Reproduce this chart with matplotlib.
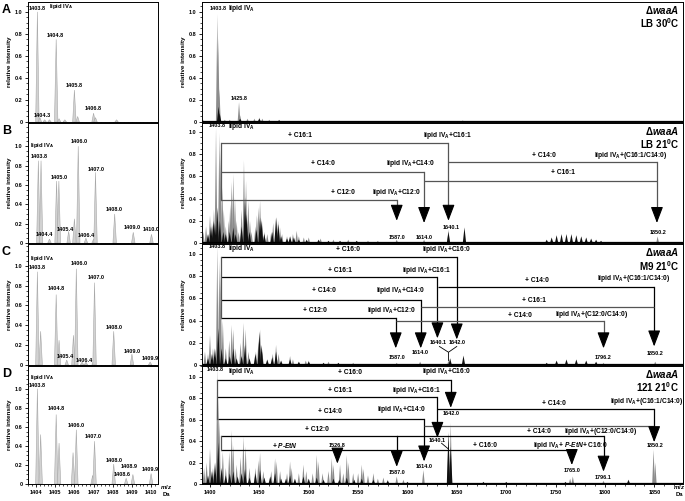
import matplotlib
matplotlib.use('Agg')
import matplotlib.pyplot as plt
from matplotlib.ticker import MultipleLocator

plt.rcParams['font.family'] = ['Liberation Sans', 'DejaVu Sans']
plt.rcParams['font.weight'] = 'bold'
plt.rcParams['mathtext.fontset'] = 'custom'
plt.rcParams['mathtext.rm'] = 'Liberation Sans:bold'
plt.rcParams['mathtext.bf'] = 'Liberation Sans:bold'
plt.rcParams['mathtext.it'] = 'Liberation Sans:bold:italic'

LIPID = r'lipid IV$_\mathbf{A}$'

# ---- left (zoomed isotope) spectra ----
A_iso_mz = [1404.07, 1404.2, 1404.45, 1404.7, 1405.05, 1405.2, 1405.5, 1406.0, 1406.17, 1407.0, 1407.1, 1408.2]
A_iso_int = [1.0, 0.04, 0.02, 0.02, 0.75, 0.03, 0.02, 0.29, 0.05, 0.08, 0.04, 0.02]
B_iso_mz = [1404.12, 1404.26, 1404.7, 1405.07, 1405.19, 1405.7, 1406.0, 1406.2, 1406.6, 1407.0, 1407.1, 1408.1, 1409.07, 1410.02]
B_iso_int = [0.85, 0.85, 0.04, 0.64, 0.64, 0.12, 0.25, 1.0, 0.05, 0.04, 0.73, 0.3, 0.11, 0.09]
C_iso_mz = [1404.07, 1404.24, 1405.05, 1405.2, 1405.6, 1405.95, 1406.1, 1406.4, 1406.6, 1407.0, 1407.05, 1408.05, 1409.0, 1409.95]
C_iso_int = [0.94, 0.34, 0.71, 0.25, 0.05, 0.3, 0.97, 0.03, 0.03, 0.04, 0.83, 0.34, 0.11, 0.03]
D_iso_mz = [1404.07, 1404.24, 1405.05, 1405.2, 1405.93, 1406.1, 1406.95, 1407.05, 1408.05, 1408.7, 1409.05, 1410.0]
D_iso_int = [1.0, 0.52, 0.73, 0.43, 0.33, 0.57, 0.09, 0.45, 0.21, 0.06, 0.1, 0.11]

A_iso_labels = [('1403.8', 1404.07, 1.03), ('1404.8', 1405.0, 0.79), ('1405.8', 1406.0, 0.33),
                ('1406.8', 1407.0, 0.12), ('1404.3', 1404.35, 0.06), (LIPID, 1405.3, 1.05)]
B_iso_labels = [(LIPID, 1404.3, 1.01), ('1403.8', 1404.15, 0.89), ('1405.0', 1405.2, 0.68),
                ('1406.0', 1406.23, 1.05), ('1407.0', 1407.13, 0.76), ('1408.0', 1408.1, 0.35),
                ('1409.0', 1409.02, 0.16), ('1410.0', 1409.98, 0.14), ('1404.4', 1404.45, 0.09),
                ('1405.4', 1405.5, 0.14), ('1406.4', 1406.6, 0.08)]
C_iso_labels = [(LIPID, 1404.3, 1.07), ('1403.8', 1404.07, 0.98), ('1404.8', 1405.05, 0.77),
                ('1406.0', 1406.23, 1.02), ('1407.0', 1407.13, 0.88), ('1408.0', 1408.1, 0.38),
                ('1409.0', 1409.02, 0.14), ('1409.9', 1409.98, 0.07), ('1405.4', 1405.55, 0.09),
                ('1406.4', 1406.5, 0.05)]
D_iso_labels = [(LIPID, 1404.3, 1.12), ('1403.8', 1404.07, 1.04), ('1404.8', 1405.05, 0.79),
                ('1406.0', 1406.1, 0.61), ('1407.0', 1407.0, 0.5), ('1408.0', 1408.1, 0.25),
                ('1408.9', 1408.85, 0.18), ('1408.6', 1408.5, 0.1), ('1409.9', 1409.98, 0.15)]

# ---- right (full range) spectra ----
A_gray_mz = [1392.5, 1407.4, 1408.4, 1409.5, 1415, 1420, 1429.4, 1430.5, 1438, 1445, 1450, 1453, 1460, 1470, 1490, 1616, 1656]
A_gray_int = [0.03, 0.98, 0.76, 0.3, 0.02, 0.02, 0.18, 0.06, 0.03, 0.03, 0.04, 0.03, 0.02, 0.02, 0.01, 0.01, 0.015]
A_black_mz = [1408.7, 1409.8, 1430.5, 1450, 1470]
A_black_int = [0.14, 0.08, 0.03, 0.03, 0.015]

B_gray_mz = [1393.2, 1396.0, 1398.0, 1400.0, 1402.0, 1404.0, 1406.1, 1409.5, 1410.8, 1412.5, 1414.0, 1416.0,
             1419.0, 1420.5, 1422.0, 1423.6, 1425.3, 1427.0, 1429.0, 1432.0, 1434.4, 1436.5, 1438.8, 1440.5,
             1442.0, 1446.0, 1447.5, 1449.0, 1450.7, 1452.5, 1455.0, 1458.0, 1462.0, 1464.0, 1467.5, 1469.0,
             1470.9, 1473.0, 1478.0, 1484.0, 1487.8, 1490.0, 1495.0, 1500, 1512, 1525, 1540, 1560, 1589.1,
             1616.8, 1641.5, 1853.3]
B_gray_int = [0.1, 0.15, 0.08, 0.25, 0.18, 0.3, 1.04, 0.99, 0.84, 0.5, 0.3, 0.15,
              0.2, 0.35, 0.55, 0.62, 0.41, 0.2, 0.1, 0.3, 0.745, 0.56, 0.38, 0.2,
              0.1, 0.15, 0.25, 0.32, 0.38, 0.22, 0.1, 0.08, 0.1, 0.18, 0.23, 0.2,
              0.14, 0.08, 0.06, 0.08, 0.11, 0.06, 0.05, 0.05, 0.04, 0.03, 0.03, 0.02, 0.03,
              0.03, 0.12, 0.06]
B_black_mz = [1398.0, 1401.0, 1403.4, 1405.0, 1407.4, 1410.0, 1413.5, 1416.0, 1420.0, 1423.6, 1426.0,
              1432.0, 1435.5, 1437.1, 1440.0, 1447.0, 1450.7, 1452.3, 1455.0, 1463.0, 1466.9, 1469.2,
              1472.0, 1478.0, 1481.1, 1485.0, 1490.0, 1497.9, 1510, 1520, 1531.7, 1548.6, 1570,
              1641.5, 1657.7, 1741, 1746, 1751, 1756, 1761, 1766, 1771, 1776, 1781, 1786, 1791, 1796]
B_black_int = [0.08, 0.15, 0.2, 0.18, 0.32, 0.2, 0.1, 0.08, 0.1, 0.14, 0.08,
               0.15, 0.41, 0.26, 0.1, 0.12, 0.23, 0.2, 0.08, 0.1, 0.23, 0.17,
               0.06, 0.04, 0.06, 0.05, 0.03, 0.03, 0.03, 0.02, 0.02, 0.02, 0.015,
               0.1, 0.14, 0.03, 0.05, 0.07, 0.08, 0.08, 0.08, 0.07, 0.06, 0.05, 0.04, 0.03, 0.02]

C_gray_mz = [1394.9, 1398.0, 1400.0, 1403.0, 1407.4, 1409.5, 1410.8, 1413.0, 1416.0, 1419.5, 1422.0, 1423.6,
             1426.0, 1431.0, 1433.8, 1436.1, 1439.0, 1446.5, 1449.0, 1450.7, 1453.0, 1463.5, 1466.9, 1469.5,
             1481.1, 1484.0, 1497.0, 1500, 1520, 1545, 1589.1, 1612.8, 1641.5, 1798.5, 1850.9]
C_gray_int = [0.12, 0.1, 0.27, 0.15, 1.07, 0.94, 0.85, 0.4, 0.15, 0.22, 0.36, 0.32,
              0.15, 0.2, 0.38, 0.32, 0.12, 0.12, 0.21, 0.32, 0.12, 0.1, 0.18, 0.1,
              0.08, 0.05, 0.04, 0.04, 0.03, 0.02, 0.02, 0.03, 0.04, 0.02, 0.03]
C_black_mz = [1398.0, 1402.0, 1405.0, 1408.4, 1411.8, 1416.0, 1420.0, 1423.6, 1427.0, 1432.0, 1435.5,
              1440.0, 1446.0, 1450.0, 1452.3, 1458.0, 1463.0, 1466.9, 1472.0, 1481.1, 1490.0, 1500.0,
              1515.0, 1530.0, 1643.2, 1656.7, 1741, 1751, 1761, 1771, 1781, 1791]
C_black_int = [0.06, 0.1, 0.15, 0.33, 0.15, 0.06, 0.08, 0.15, 0.06, 0.08, 0.18,
               0.06, 0.1, 0.3, 0.18, 0.05, 0.07, 0.12, 0.04, 0.05, 0.03, 0.03,
               0.02, 0.02, 0.06, 0.085, 0.02, 0.04, 0.05, 0.05, 0.04, 0.03]

D_gray_mz = [1391.6, 1394.0, 1396.6, 1400.0, 1403.0, 1407.4, 1408.4, 1409.5, 1413.0, 1416.0, 1419.5, 1422.0,
             1423.6, 1427.0, 1431.0, 1433.8, 1436.1, 1440.0, 1446.0, 1449.0, 1450.7, 1454.0, 1462.0, 1465.9,
             1467.5, 1471.0, 1478.0, 1481.1, 1482.7, 1490.0, 1494.6, 1497.5, 1504.0, 1508.1, 1509.8, 1514.0,
             1520.0, 1523.3, 1525.0, 1531.7, 1535.0, 1538.5, 1540.2, 1545.0, 1550.0, 1553.7, 1555.4, 1560.0,
             1565.5, 1570.0, 1575.6, 1580.0, 1589.1, 1595.9, 1616.1, 1641.5, 1643.8, 1764.7, 1767.4,
             1798.5, 1849.2, 1850.9]
D_gray_int = [0.12, 0.15, 0.2, 0.33, 0.15, 1.09, 0.8, 0.6, 0.3, 0.15, 0.3, 0.5,
              0.36, 0.18, 0.25, 0.44, 0.35, 0.15, 0.15, 0.22, 0.29, 0.12, 0.12, 0.24,
              0.21, 0.12, 0.1, 0.21, 0.15, 0.1, 0.18, 0.12, 0.1, 0.27, 0.21, 0.1,
              0.12, 0.24, 0.18, 0.18, 0.1, 0.27, 0.2, 0.1, 0.1, 0.18, 0.14, 0.08,
              0.1, 0.05, 0.06, 0.04, 0.07, 0.04, 0.13, 0.49, 0.57, 0.05, 0.07,
              0.03, 0.32, 0.2]
D_black_mz = [1398.0, 1402.0, 1405.1, 1408.4, 1411.8, 1416.0, 1420.0, 1423.6, 1428.0, 1432.0, 1435.5,
              1440.0, 1446.0, 1450.7, 1455.0, 1461.0, 1465.9, 1472.0, 1477.0, 1481.1, 1486.0, 1494.6,
              1500.0, 1508.1, 1515.0, 1525.0, 1531.0, 1538.5, 1546.0, 1553.7, 1565.5, 1580.0, 1600.0,
              1641.5, 1643.8, 1676.9, 1700.0, 1760.0, 1823.8]
D_black_int = [0.08, 0.12, 0.2, 0.39, 0.15, 0.08, 0.1, 0.12, 0.07, 0.1, 0.14,
               0.06, 0.1, 0.13, 0.06, 0.07, 0.1, 0.05, 0.05, 0.08, 0.05, 0.07,
               0.05, 0.06, 0.04, 0.05, 0.04, 0.06, 0.04, 0.05, 0.04, 0.03, 0.02,
               0.47, 0.35, 0.02, 0.02, 0.02, 0.04]

# links: (x start, x end, y of bar, arrow tip y or None, colour)
B_links = [(1410.8, 1641.5, 0.90, 0.20, '#555555'), (1410.8, 1616.8, 0.64, 0.18, '#555555'),
           (1410.8, 1589.1, 0.385, 0.20, '#555555'), (1641.5, 1852.6, 0.727, 0.18, '#555555'),
           (1616.8, 1852.6, 0.56, None, '#555555')]
C_links = [(1410.8, 1649.9, 0.976, 0.23, 'black'), (1410.8, 1630.3, 0.79, 0.24, 'black'),
           (1410.8, 1613.4, 0.59, 0.15, 'black'), (1410.8, 1588.1, 0.424, 0.15, 'black'),
           (1631.0, 1849.8, 0.706, 0.167, 'black'), (1614.1, 1849.8, 0.524, None, '#555555'),
           (1588.8, 1798.5, 0.40, 0.15, '#555555')]
D_links = [(1407.4, 1643.8, 0.97, 0.71, 'black'), (1407.4, 1630.3, 0.81, 0.43, 'black'),
           (1408.4, 1616.8, 0.61, 0.21, 'black'), (1410.8, 1589.1, 0.45, 0.16, 'black'),
           (1410.8, 1766.4, 0.317, 0.177, 'black'), (1529.0, 1529.0, 0.317, 0.19, 'black'),
           (1630.3, 1849.8, 0.70, 0.39, 'black'), (1616.8, 1849.8, 0.54, None, '#555555'),
           (1589.1, 1798.5, 0.45, 0.115, 'black')]
# trunks: (x, y low, y high)
B_trunks = [(1410.8, 0.385, 0.90)]
C_trunks = [(1410.8, 0.424, 0.976)]
D_trunks = [(1407.4, 0.61, 0.97), (1410.8, 0.317, 0.45)]

# text: (text, x, y, size)
A_texts = [('1403.8', 1408.0, 1.03, 4), (LIPID, 1432.1, 1.03, 4.8), ('1425.8', 1429.4, 0.21, 4)]
B_texts = [('1403.8', 1407.4, 1.06, 4), (LIPID, 1432.1, 1.05, 4.8),
           ('+ C16:1', 1491.2, 0.97, 4.8), (LIPID + '+C16:1', 1641.0, 0.97, 4.8),
           ('+ C14:0', 1514.8, 0.715, 4.8), (LIPID + '+C14:0', 1603.0, 0.715, 4.8),
           ('+ C12:0', 1535.1, 0.455, 4.8), (LIPID + '+C12:0', 1589.1, 0.455, 4.8),
           ('+ C14:0', 1737.7, 0.79, 4.8), (LIPID + '+(C16:1/C14:0)', 1825.5, 0.79, 4.8),
           ('+ C16:1', 1757.6, 0.636, 4.8),
           ('1587.0', 1589.1, 0.05, 4), ('1614.0', 1616.8, 0.05, 4), ('1640.1', 1643.8, 0.14, 4),
           ('1850.2', 1854.2, 0.09, 4)]
C_texts = [('1403.8', 1407.4, 1.07, 4), (LIPID, 1432.1, 1.045, 4.8),
           ('+ C16:0', 1540.2, 1.04, 4.8), (LIPID + '+C16:0', 1639.8, 1.04, 4.8),
           ('+ C16:1', 1531.7, 0.855, 4.8), (LIPID + '+C16:1', 1619.5, 0.855, 4.8),
           ('+ C14:0', 1515.5, 0.667, 4.8), (LIPID + '+C14:0', 1592.5, 0.667, 4.8),
           ('+ C12:0', 1506.4, 0.49, 4.8), (LIPID + '+C12:0', 1584.1, 0.49, 4.8),
           ('+ C14:0', 1731.0, 0.758, 4.8), (LIPID + '+(C16:1/C14:0)', 1828.9, 0.78, 4.8),
           ('+ C16:1', 1727.6, 0.585, 4.8), ('+ C14:0', 1714.1, 0.445, 4.8),
           (LIPID + '+(C12:0/C14:0)', 1786.7, 0.455, 4.8),
           ('1587.0', 1589.1, 0.07, 4), ('1614.0', 1612.8, 0.115, 4), ('1640.1', 1631.3, 0.2, 4),
           ('1642.0', 1649.9, 0.2, 4), ('1796.2', 1798.5, 0.07, 4), ('1850.2', 1850.9, 0.1, 4)]
D_texts = [('1403.8', 1405.1, 1.07, 4), (LIPID, 1432.1, 1.05, 4.8),
           ('+ C16:0', 1541.8, 1.04, 4.8), (LIPID + '+C16:0', 1639.8, 1.05, 4.8),
           ('+ C16:1', 1531.7, 0.876, 4.8), (LIPID + '+C16:1', 1609.4, 0.876, 4.8),
           ('+ C14:0', 1521.6, 0.674, 4.8), (LIPID + '+C14:0', 1594.2, 0.69, 4.8),
           ('+ C12:0', 1508.1, 0.51, 4.8), (r'+ $\mathit{P}$-$\mathit{EtN}$', 1476.0, 0.363, 4.8),
           ('1526.8', 1529.0, 0.363, 4), ('+ C16:0', 1678.6, 0.363, 4.8),
           (LIPID + r'+ $\mathit{P}$-$\mathit{EtN}$+ C16:0', 1764.7, 0.363, 4.8),
           ('+ C14:0', 1747.9, 0.75, 4.8), (LIPID + '+(C16:1/C14:0)', 1842.4, 0.77, 4.8),
           ('+ C14:0', 1732.7, 0.49, 4.8), (LIPID + '+(C12:0/C14:0)', 1795.1, 0.49, 4.8),
           ('1642.0', 1643.8, 0.66, 4), ('1640.1', 1630.3, 0.41, 4), ('1587.0', 1589.1, 0.11, 4),
           ('1614.0', 1616.8, 0.16, 4), ('1765.0', 1766.4, 0.13, 4), ('1796.1', 1798.5, 0.06, 4),
           ('1850.2', 1850.9, 0.36, 4)]
# connector lines next to labels: list of (xs, ys)
C_marks = [([1632.3, 1641.5, 1649.9], [0.167, 0.115, 0.167]), ([1641.5, 1641.5], [0.115, 0.045])]
D_marks = [([1634.5, 1641.0], [0.38, 0.33])]

conditions = ['LB 30$^\\mathbf{0}$C', 'LB 21$^\\mathbf{0}$C', 'M9 21$^\\mathbf{0}$C', '121 21$^\\mathbf{0}$C']
panel_letters = ['A', 'B', 'C', 'D']

iso_sets = [(A_iso_mz, A_iso_int, A_iso_labels), (B_iso_mz, B_iso_int, B_iso_labels),
            (C_iso_mz, C_iso_int, C_iso_labels), (D_iso_mz, D_iso_int, D_iso_labels)]
full_sets = [(A_gray_mz, A_gray_int, A_black_mz, A_black_int, [], [], A_texts, []),
             (B_gray_mz, B_gray_int, B_black_mz, B_black_int, B_links, B_trunks, B_texts, []),
             (C_gray_mz, C_gray_int, C_black_mz, C_black_int, C_links, C_trunks, C_texts, C_marks),
             (D_gray_mz, D_gray_int, D_black_mz, D_black_int, D_links, D_trunks, D_texts, D_marks)]

W, H = 685, 501
rows = [(2, 122), (123, 243), (244, 365), (366, 484)]
left_top = [1.09, 1.24, 1.22, 1.24]
right_top = [1.09, 1.08, 1.09, 1.10]


def draw_peaks(ax, mz, inten, hw, color, ec='none', lw=0.0):
    for m, h in zip(mz, inten):
        ax.fill([m - hw, m, m + hw], [0, h, 0], facecolor=color, edgecolor=ec, lw=lw, zorder=2)


def style_axis(ax, show_x):
    ax.yaxis.set_minor_locator(MultipleLocator(0.05))
    ax.set_yticks([0, 0.2, 0.4, 0.6, 0.8, 1.0])
    ax.set_yticklabels(['0', '0.2', '0.4', '0.6', '0.8', '1.0'])
    ax.tick_params(axis='both', which='major', labelsize=4, length=2.5, width=0.6, pad=1.5, direction='out')
    ax.tick_params(axis='both', which='minor', length=1.5, width=0.5, direction='out')
    if not show_x:
        ax.tick_params(axis='x', labelbottom=False)
    for s in ax.spines.values():
        s.set_linewidth(0.7)


fig = plt.figure(figsize=(W / 100, H / 100), dpi=100)

for i, (top, bot) in enumerate(rows):
    y0 = 1 - bot / H
    h = (bot - top) / H
    last = i == len(rows) - 1

    # left panel
    axl = fig.add_axes([28 / W, y0, 130 / W, h])
    mz, inten, labels = iso_sets[i]
    draw_peaks(axl, mz, inten, 0.09, '#d2d2d2', ec='#a8a8a8', lw=0.4)
    axl.axhline(0.004, color='#b0b0b0', lw=0.6, zorder=1)
    for t, x, y in labels:
        fs = 4.2 if 'lipid' in t else 4
        axl.text(x, y, t, fontsize=fs, ha='center', va='center', zorder=5)
    axl.set_xlim(1403.58, 1410.36)
    axl.set_ylim(0, left_top[i])
    axl.set_xticks(range(1404, 1411))
    axl.xaxis.set_minor_locator(MultipleLocator(0.2))
    style_axis(axl, last)
    fig.text(10 / W, 1 - (top + bot) / 2 / H, 'relative intensity', rotation=90, fontsize=4.6,
             ha='center', va='center')
    fig.text(2 / W, 1 - (top + 8) / H, panel_letters[i], fontsize=9, ha='left', va='center')

    # right panel
    axr = fig.add_axes([202 / W, y0, 481 / W, h])
    gmz, gint, bmz, bint, links, trunks, texts, marks = full_sets[i]
    draw_peaks(axr, gmz, gint, 1.4, '#8c8c8c')
    draw_peaks(axr, bmz, bint, 1.7, '#111111')
    axr.axhline(0.006, color='black', lw=0.9, zorder=3)
    for x0, x1, yl, tip, c in links:
        axr.plot([x0, x1], [yl, yl], color=c, lw=0.9, zorder=4, solid_capstyle='butt')
        if tip is not None:
            axr.plot([x1, x1], [yl, tip + 0.05], color=c, lw=0.9, zorder=4)
            axr.annotate('', xy=(x1, tip), xytext=(x1, tip + 0.11),
                         arrowprops=dict(arrowstyle='-|>,head_length=1.0,head_width=0.38',
                                         color='black', lw=0.8, shrinkA=0, shrinkB=0,
                                         mutation_scale=10), zorder=6)
    for x, ylo, yhi in trunks:
        axr.plot([x, x], [ylo, yhi], color='#555555', lw=0.9, zorder=4)
    for xs, ys in marks:
        axr.plot(xs, ys, color='black', lw=0.6, zorder=4)
    for t, x, y, fs in texts:
        axr.text(x, y, t, fontsize=fs, ha='center', va='center', zorder=5)
    axr.text(0.992, 0.93, r'$\Delta\mathit{waaA}$', transform=axr.transAxes, fontsize=7,
             ha='right', va='center')
    axr.text(0.992, 0.82, conditions[i], transform=axr.transAxes, fontsize=7,
             ha='right', va='center')
    axr.set_xlim(1391.9, 1879)
    axr.set_ylim(0, right_top[i])
    axr.set_xticks(range(1400, 1851, 50))
    axr.xaxis.set_minor_locator(MultipleLocator(10))
    style_axis(axr, last)
    fig.text(184 / W, 1 - (top + bot) / 2 / H, 'relative intensity', rotation=90, fontsize=4.6,
             ha='center', va='center')

fig.text(166 / W, 1 - 487 / H, r'$\mathit{m/z}$', fontsize=4.3, ha='center', va='center')
fig.text(166 / W, 1 - 495 / H, 'Da', fontsize=4.3, ha='center', va='center')
fig.text(679 / W, 1 - 487 / H, r'$\mathit{m/z}$', fontsize=4.3, ha='center', va='center')
fig.text(679 / W, 1 - 495 / H, 'Da', fontsize=4.3, ha='center', va='center')

fig.savefig('out.png', dpi=100)
